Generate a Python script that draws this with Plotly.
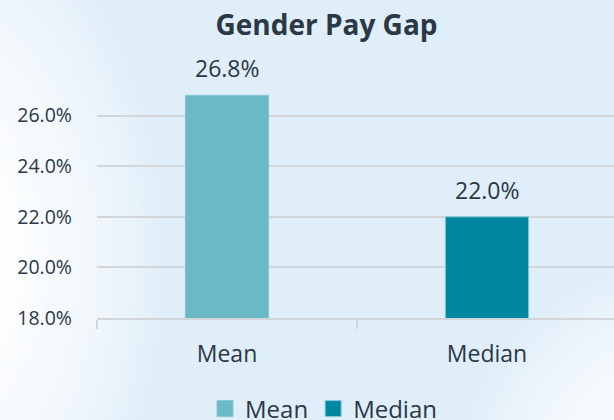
import base64, struct, zlib
import numpy as np
import plotly.graph_objects as go

# ---- data ----
categories = ["Mean", "Median"]
values = [26.8, 22.0]
series_names = ["Mean", "Median"]
bar_colors = ["#6bb8c7", "#0088a3"]
y_ticks = [18, 20, 22, 24, 26]
y_tick_labels = ["18.0%", "20.0%", "22.0%", "24.0%", "26.0%"]

W, H = 614, 420
ML, MR, MT, MB = 97, 0, 65, 102

# ---- background gradient image (decoration) ----
def make_bg():
    yy, xx = np.mgrid[0:H, 0:W].astype(float)
    base = np.array([223, 238, 249], float)
    def glow(cx, cy, rx, ry, p):
        d = np.sqrt(((xx - cx) / rx) ** 2 + ((yy - cy) / ry) ** 2)
        t = np.clip(d, 0, 1)
        return 1 - t ** p
    w = np.maximum(glow(-70, 260, 240, 380, 2.2), glow(700, 480, 250, 230, 2.0))
    img = base[None, None, :] * (1 - w[..., None]) + 255 * w[..., None]
    img = np.clip(img, 0, 255).astype(np.uint8)
    raw = b"".join(b"\x00" + img[r].tobytes() for r in range(H))
    def chunk(tag, data):
        c = struct.pack(">I", len(data)) + tag + data
        return c + struct.pack(">I", zlib.crc32(tag + data) & 0xffffffff)
    png = b"\x89PNG\r\n\x1a\n" + chunk(b"IHDR", struct.pack(">IIBBBBB", W, H, 8, 2, 0, 0, 0)) \
        + chunk(b"IDAT", zlib.compress(raw, 9)) + chunk(b"IEND", b"")
    return "data:image/png;base64," + base64.b64encode(png).decode()

text_color = "#2b3845"
font_family = "Open Sans, Noto Sans, sans-serif"

fig = go.Figure()
for cat, val, name, col in zip(categories, values, series_names, bar_colors):
    fig.add_trace(go.Bar(
        x=[cat], y=[val], name=name, width=0.32, showlegend=False,
        marker=dict(color=col, line=dict(color="#86c6d3", width=1)),
        hoverinfo="skip",
    ))
    fig.add_annotation(x=cat, y=val, text=f"{val:.1f}%", showarrow=False,
                       yanchor="middle", yshift=27,
                       font=dict(size=23, color=text_color, family=font_family))
# legend entries with square swatches
for name, col in zip(series_names, bar_colors):
    fig.add_trace(go.Scatter(
        x=[None], y=[None], mode="markers", name=name,
        marker=dict(symbol="square", size=16, color=col,
                    line=dict(color="#86c6d3", width=1)),
        hoverinfo="skip",
    ))

pw = W - ML - MR
ph = H - MT - MB
fig.add_layout_image(dict(
    source=make_bg(), xref="paper", yref="paper",
    x=-ML / pw, y=1 + MT / ph, sizex=W / pw, sizey=H / ph,
    xanchor="left", yanchor="top", sizing="stretch", layer="below",
))

fig.update_layout(
    width=W, height=H,
    margin=dict(l=ML, r=MR, t=MT, b=MB, autoexpand=False),
    paper_bgcolor="#dfeef9", plot_bgcolor="rgba(0,0,0,0)",
    barmode="overlay",
    title=dict(text="<b>Gender Pay Gap</b>", x=(326.5 - ML) / pw, xref="paper", xanchor="center",
               y=1 - 25 / H, yanchor="middle",
               font=dict(size=28, color=text_color, family=font_family)),
    font=dict(family=font_family, color=text_color),
    legend=dict(orientation="h", x=(323.5 - ML) / pw, xanchor="center",
                y=-(409 - 318) / ph, yanchor="middle",
                font=dict(size=24, color=text_color, family=font_family),
                itemwidth=30, bgcolor="rgba(0,0,0,0)"),
    showlegend=True,
)
fig.update_xaxes(
    range=[-0.5, 1.5 - 3 / 260], showgrid=False,
    showline=True, linecolor="#d3d6d9", linewidth=2,
    ticks="outside", tickson="boundaries", ticklen=9, tickcolor="#d3d6d9", tickwidth=2,
    tickfont=dict(size=23, color=text_color, family=font_family),
    ticklabelstandoff=14,
)
fig.update_yaxes(
    range=[18, 28], tickvals=y_ticks, ticktext=y_tick_labels,
    showgrid=True, gridcolor="#d3d6d9", gridwidth=2, zeroline=False,
    showline=False, ticks="",
    tickfont=dict(size=19.5, color=text_color, family=font_family),
    ticklabelstandoff=24,
)

fig.write_html("out.html", config={"displayModeBar": False},
               post_script="document.body.style.margin='0';document.body.style.overflow='hidden';")
